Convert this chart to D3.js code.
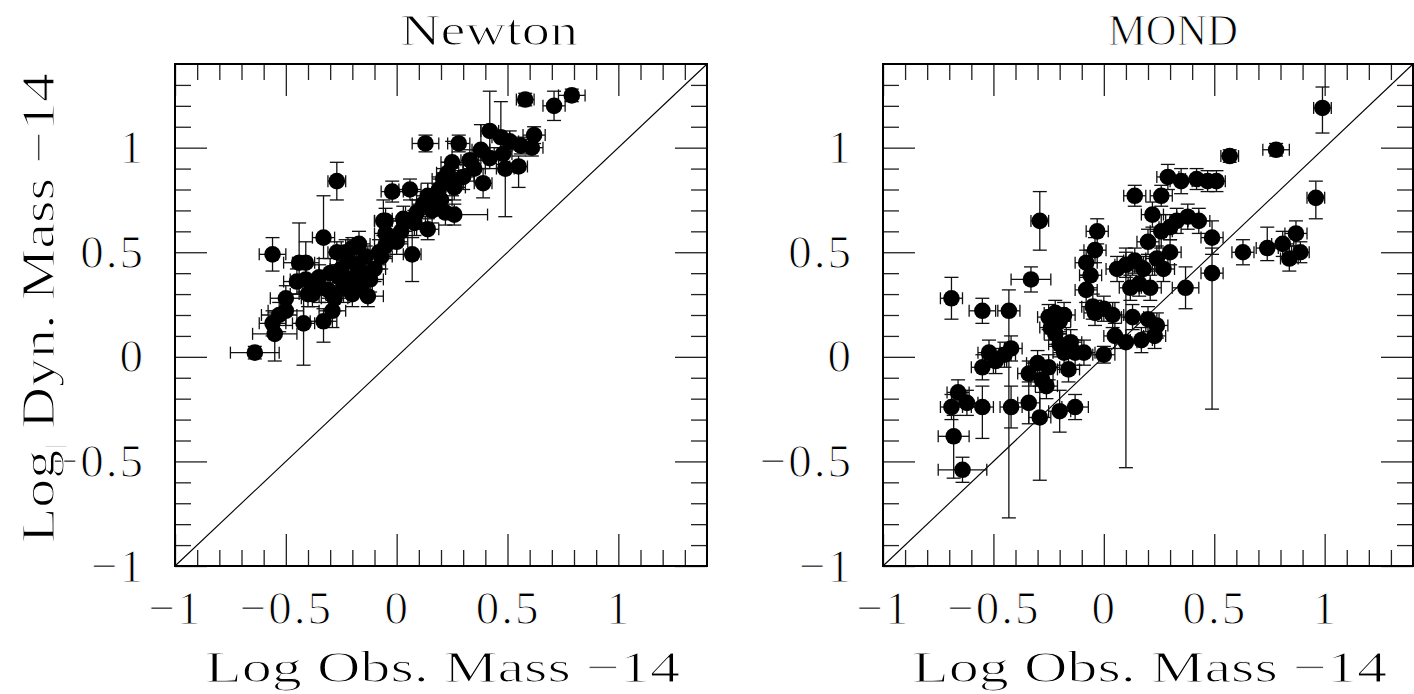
<!DOCTYPE html>
<html>
<head>
<meta charset="utf-8">
<script src="https://cdn.jsdelivr.net/npm/d3@7"></script>
<style>
html,body{margin:0;padding:0;background:#fff;}
svg{display:block;}
text{font-family:"Liberation Serif","DejaVu Serif",serif;fill:#000;stroke:#fff;stroke-width:1.1px;paint-order:fill;}
</style>
</head>
<body>
<svg id="chart" width="1414" height="694"></svg>
<script>
// ---------------- DATA ----------------
const panelTitles = ["Newton", "MOND"];
const xAxisLabel = "Log Obs. Mass \u221214";
const yAxisLabel = ["Log", "|", " Dyn. Mass \u221214"];
const majorTicks = [-1, -0.5, 0, 0.5, 1];
const majorTickLabels = ["\u22121", "\u22120.5", "0", "0.5", "1"];
const minorTicks = [-0.9,-0.8,-0.7,-0.6,-0.4,-0.3,-0.2,-0.1,0.1,0.2,0.3,0.4,0.6,0.7,0.8,0.9,1.1,1.2,1.3];
const axisDomain = [-1, 1.4];

// Newton panel
const newtonX = [-0.64,-0.56,-0.44,-0.41,-0.33,-0.41,-0.50,-0.50,-0.53,-0.56,-0.55,-0.42,-0.33,-0.29,-0.40,-0.35,-0.31,-0.27,-0.17,-0.22,-0.13,-0.12,-0.07,-0.06,-0.05,0.02,0.07,-0.25,-0.22,-0.20,-0.18,-0.15,-0.24,-0.20,-0.16,-0.26,-0.19,-0.14,-0.23,-0.28,-0.30,-0.35,0.58,0.71,0.79,0.42,0.13,0.28,0.62,0.47,0.51,0.56,0.61,0.38,0.48,0.42,0.33,0.25,0.55,0.49,0.23,0.25,0.39,0.26,0.21,-0.02,0.06,0.14,0.19,0.20,0.12,0.09,0.26,0.22,-0.05,0.14,0.08,-0.05,-0.08,-0.27,0.00,-0.10,0.03,0.16,0.30,0.35,-0.45,-0.38];
const newtonY = [0.02,0.49,0.45,0.45,0.57,0.37,0.28,0.22,0.20,0.16,0.11,0.16,0.17,0.22,0.30,0.33,0.32,0.50,0.54,0.35,0.29,0.37,0.48,0.65,0.59,0.60,0.49,0.42,0.46,0.52,0.44,0.40,0.33,0.30,0.34,0.38,0.38,0.48,0.50,0.28,0.40,0.38,1.23,1.20,1.25,1.08,1.02,1.02,1.06,1.05,1.03,1.01,1.00,0.99,0.97,0.95,0.94,0.93,0.91,0.90,0.88,0.83,0.83,0.81,0.85,0.79,0.80,0.77,0.80,0.75,0.73,0.69,0.68,0.69,0.65,0.61,0.64,0.53,0.50,0.84,0.55,0.42,0.66,0.70,0.86,0.90,0.36,0.30];
const newtonXErr = [0.11,0.06,0.07,0.06,0.05,0.07,0.07,0.08,0.08,0.06,0.10,0.05,0.06,0.06,0.08,0.05,0.06,0.04,0.05,0.05,0.07,0.06,0.05,0.04,0.05,0.05,0.04,0.05,0.05,0.05,0.06,0.05,0.06,0.05,0.05,0.06,0.05,0.05,0.05,0.06,0.05,0.06,0.04,0.05,0.06,0.04,0.06,0.05,0.05,0.04,0.04,0.04,0.05,0.04,0.04,0.04,0.04,0.05,0.04,0.04,0.05,0.05,0.04,0.05,0.05,0.05,0.05,0.05,0.05,0.05,0.05,0.05,0.15,0.05,0.05,0.05,0.05,0.05,0.05,0.04,0.05,0.05,0.05,0.05,0.05,0.05,0.06,0.06];
const newtonYErrLo = [0.03,0.08,0.15,0.10,0.10,0.08,0.06,0.07,0.08,0.06,0.13,0.20,0.10,0.08,0.06,0.07,0.06,0.06,0.08,0.06,0.05,0.06,0.06,0.07,0.06,0.06,0.13,0.06,0.07,0.05,0.06,0.05,0.07,0.06,0.05,0.06,0.06,0.05,0.06,0.06,0.07,0.06,0.03,0.07,0.03,0.10,0.04,0.04,0.04,0.05,0.04,0.04,0.04,0.05,0.05,0.05,0.05,0.05,0.10,0.23,0.05,0.06,0.07,0.06,0.05,0.05,0.05,0.06,0.06,0.06,0.06,0.06,0.05,0.06,0.06,0.05,0.06,0.06,0.06,0.09,0.06,0.06,0.06,0.06,0.06,0.06,0.06,0.06];
const newtonYErrHi = [0.03,0.08,0.19,0.10,0.20,0.08,0.06,0.07,0.06,0.06,0.10,0.15,0.06,0.05,0.06,0.07,0.08,0.05,0.06,0.06,0.05,0.05,0.05,0.10,0.06,0.05,0.08,0.06,0.07,0.05,0.06,0.05,0.07,0.06,0.05,0.06,0.06,0.05,0.06,0.06,0.07,0.06,0.03,0.07,0.03,0.19,0.04,0.04,0.04,0.17,0.05,0.04,0.04,0.12,0.05,0.05,0.05,0.10,0.05,0.08,0.05,0.06,0.07,0.06,0.05,0.05,0.05,0.06,0.06,0.06,0.06,0.06,0.05,0.06,0.06,0.05,0.06,0.06,0.06,0.09,0.06,0.06,0.06,0.06,0.06,0.06,0.06,0.06];

// MOND panel
const mondX = [0.99,0.78,0.57,0.29,0.35,0.47,0.42,0.51,0.26,0.14,0.96,0.87,0.89,0.81,0.84,0.74,0.49,0.49,0.43,0.38,0.33,0.30,0.26,0.22,0.20,0.30,0.24,0.18,0.14,0.10,0.06,0.16,0.21,0.12,0.27,0.37,0.13,0.20,0.24,0.10,0.17,0.23,0.00,0.04,-0.25,-0.22,-0.20,-0.18,-0.24,-0.29,-0.33,-0.08,-0.06,-0.08,-0.04,-0.03,-0.05,-0.04,-0.09,-0.13,-0.18,-0.25,-0.28,-0.26,-0.30,-0.34,-0.42,-0.45,-0.49,-0.55,-0.52,-0.66,-0.69,-0.69,-0.62,-0.68,-0.64,-0.55,-0.42,-0.34,-0.29,-0.20,-0.13,-0.43,-0.55,-0.15,-0.20,-0.22,-0.16,0.63,0.05,0.00];
const mondY = [1.19,0.99,0.96,0.86,0.84,0.84,0.85,0.84,0.77,0.77,0.76,0.59,0.50,0.54,0.47,0.52,0.40,0.57,0.65,0.67,0.65,0.62,0.60,0.68,0.55,0.50,0.47,0.42,0.46,0.44,0.42,0.35,0.33,0.33,0.42,0.33,0.19,0.18,0.15,0.07,0.08,0.10,0.01,0.20,0.19,0.21,0.17,0.20,0.14,0.65,0.37,0.32,0.39,0.45,0.51,0.60,0.24,0.21,0.02,0.02,0.02,-0.05,-0.11,-0.14,-0.03,-0.08,0.04,0.01,-0.02,-0.05,0.02,-0.17,0.28,-0.24,-0.22,-0.38,-0.54,-0.24,-0.24,-0.22,-0.29,-0.26,-0.24,0.22,0.22,0.07,0.06,0.11,-0.06,0.50,0.10,0.23];
const mondXErr = [0.04,0.06,0.04,0.05,0.05,0.04,0.05,0.04,0.05,0.05,0.04,0.05,0.04,0.05,0.04,0.05,0.05,0.05,0.05,0.05,0.05,0.05,0.05,0.05,0.05,0.05,0.05,0.05,0.05,0.05,0.05,0.05,0.05,0.05,0.05,0.06,0.05,0.05,0.05,0.05,0.05,0.05,0.05,0.05,0.05,0.05,0.05,0.05,0.05,0.04,0.09,0.05,0.05,0.05,0.05,0.05,0.05,0.05,0.05,0.05,0.05,0.05,0.05,0.05,0.05,0.05,0.05,0.05,0.05,0.05,0.05,0.05,0.05,0.05,0.05,0.07,0.11,0.05,0.05,0.05,0.05,0.05,0.06,0.05,0.06,0.05,0.05,0.05,0.05,0.05,0.05,0.05];
const mondYErrLo = [0.12,0.03,0.03,0.06,0.06,0.05,0.05,0.05,0.05,0.05,0.10,0.06,0.05,0.06,0.06,0.06,0.65,0.08,0.06,0.06,0.06,0.06,0.08,0.06,0.06,0.06,0.06,0.06,0.06,0.06,0.06,0.06,0.06,0.06,0.06,0.10,0.06,0.06,0.06,0.60,0.06,0.06,0.04,0.06,0.06,0.06,0.06,0.06,0.06,0.14,0.06,0.06,0.06,0.06,0.06,0.06,0.06,0.06,0.06,0.06,0.06,0.06,0.06,0.06,0.06,0.06,0.06,0.06,0.06,0.06,0.06,0.06,0.10,0.06,0.06,0.20,0.06,0.15,0.10,0.10,0.30,0.10,0.06,0.99,0.06,0.06,0.06,0.06,0.06,0.06,0.06,0.06];
const mondYErrHi = [0.10,0.03,0.03,0.06,0.06,0.05,0.05,0.05,0.05,0.05,0.08,0.06,0.05,0.06,0.06,0.10,0.12,0.08,0.06,0.06,0.06,0.06,0.08,0.06,0.06,0.06,0.06,0.06,0.06,0.06,0.06,0.06,0.06,0.06,0.06,0.10,0.06,0.06,0.06,0.45,0.06,0.06,0.04,0.06,0.06,0.06,0.06,0.06,0.06,0.14,0.06,0.06,0.06,0.06,0.06,0.06,0.06,0.06,0.06,0.06,0.06,0.06,0.06,0.06,0.06,0.06,0.06,0.06,0.06,0.06,0.06,0.06,0.10,0.06,0.06,0.10,0.06,0.10,0.10,0.10,0.15,0.10,0.06,0.10,0.06,0.06,0.06,0.06,0.06,0.06,0.06,0.06];

// ---------------- DRAW ----------------
const svg = d3.select("#chart");
const panels = [
  {title: panelTitles[0], left: 175, right: 707, X: newtonX, Y: newtonY, XE: newtonXErr, YL: newtonYErrLo, YH: newtonYErrHi, titleX: 400, titleW: 178, xlabX: 205},
  {title: panelTitles[1], left: 883, right: 1413, X: mondX, Y: mondY, XE: mondXErr, YL: mondYErrLo, YH: mondYErrHi, titleX: 1108, titleW: 130, xlabX: 912}
];
const plotTop = 64, plotBottom = 566;
const yScale = d3.scaleLinear().domain(axisDomain).range([plotBottom, plotTop]);
const fmt = d => majorTickLabels[majorTicks.indexOf(d)];

panels.forEach((p) => {
  const x = d3.scaleLinear().domain(axisDomain).range([p.left, p.right]);
  const y = yScale;
  const g = svg.append("g");
  const W = p.right - p.left, H = plotBottom - plotTop;

  // diagonal y=x
  g.append("line")
    .attr("x1", x(axisDomain[0])).attr("y1", y(axisDomain[0]))
    .attr("x2", x(axisDomain[1])).attr("y2", y(axisDomain[1]))
    .attr("stroke", "#000").attr("stroke-width", 1.1);

  const addAxis = (gen, tx, ty, vals, size, pad) => {
    const a = g.append("g").attr("transform", `translate(${tx},${ty})`)
      .call(gen.tickValues(vals).tickSize(size).tickPadding(pad || 0)
        .tickFormat(pad ? fmt : () => ""));
    a.select(".domain").remove();
    a.selectAll(".tick line").attr("stroke", "#222").attr("stroke-width", 1.3);
    return a;
  };
  const xb = addAxis(d3.axisBottom(x), 0, plotBottom, majorTicks, -32, 25);
  addAxis(d3.axisBottom(x), 0, plotBottom, minorTicks, -16, 0);
  addAxis(d3.axisTop(x), 0, plotTop, majorTicks, -32, 0);
  addAxis(d3.axisTop(x), 0, plotTop, minorTicks, -16, 0);
  const yl = addAxis(d3.axisLeft(y), p.left, 0, majorTicks, -32, 30);
  addAxis(d3.axisLeft(y), p.left, 0, minorTicks, -16, 0);
  addAxis(d3.axisRight(y), p.right, 0, majorTicks, -32, 0);
  addAxis(d3.axisRight(y), p.right, 0, minorTicks, -16, 0);

  [xb, yl].forEach(a => a.selectAll(".tick text").attr("font-size", 47).attr("fill", "#000")
    .attr("letter-spacing", 2).attr("font-family", "Liberation Serif, serif"));

  // frame
  g.append("rect").attr("x", p.left).attr("y", plotTop).attr("width", W).attr("height", H)
    .attr("fill", "none").attr("stroke", "#000").attr("stroke-width", 2);

  // error bars
  const idx = d3.range(p.X.length);
  const eb = g.append("g").attr("stroke", "#111").attr("stroke-width", 1.3);
  const capH = 6, capV = 7;
  idx.forEach(i => {
    const cx = x(p.X[i]), cy = y(p.Y[i]);
    const x0 = x(p.X[i] - p.XE[i]), x1 = x(p.X[i] + p.XE[i]);
    const y0 = y(p.Y[i] - p.YL[i]), y1 = y(p.Y[i] + p.YH[i]);
    eb.append("line").attr("x1", x0).attr("x2", x1).attr("y1", cy).attr("y2", cy);
    eb.append("line").attr("x1", x0).attr("x2", x0).attr("y1", cy - capH).attr("y2", cy + capH);
    eb.append("line").attr("x1", x1).attr("x2", x1).attr("y1", cy - capH).attr("y2", cy + capH);
    eb.append("line").attr("x1", cx).attr("x2", cx).attr("y1", y0).attr("y2", y1);
    eb.append("line").attr("x1", cx - capV).attr("x2", cx + capV).attr("y1", y0).attr("y2", y0);
    eb.append("line").attr("x1", cx - capV).attr("x2", cx + capV).attr("y1", y1).attr("y2", y1);
  });

  // points
  g.append("g").selectAll("circle").data(idx).join("circle")
    .attr("cx", i => x(p.X[i])).attr("cy", i => y(p.Y[i])).attr("r", 8.3)
    .attr("fill", "#000");

  // title
  g.append("text").attr("x", p.titleX).attr("y", 45).attr("font-size", 44)
    .attr("textLength", p.titleW).attr("lengthAdjust", "spacingAndGlyphs")
    .text(p.title);

  // x label
  g.append("text").attr("x", p.xlabX).attr("y", 682).attr("font-size", 44)
    .attr("textLength", 475).attr("lengthAdjust", "spacingAndGlyphs")
    .text(xAxisLabel);
});

// y label (left only)
const yt = svg.append("text")
  .attr("transform", "translate(54,543) rotate(-90)")
  .attr("font-size", 46).attr("textLength", 470).attr("lengthAdjust", "spacingAndGlyphs");
yt.append("tspan").text(yAxisLabel[0]);
yt.append("tspan").attr("font-size", 26).attr("dy", 8).text(yAxisLabel[1]);
yt.append("tspan").attr("dy", -8).text(yAxisLabel[2]);
</script>
</body>
</html>
